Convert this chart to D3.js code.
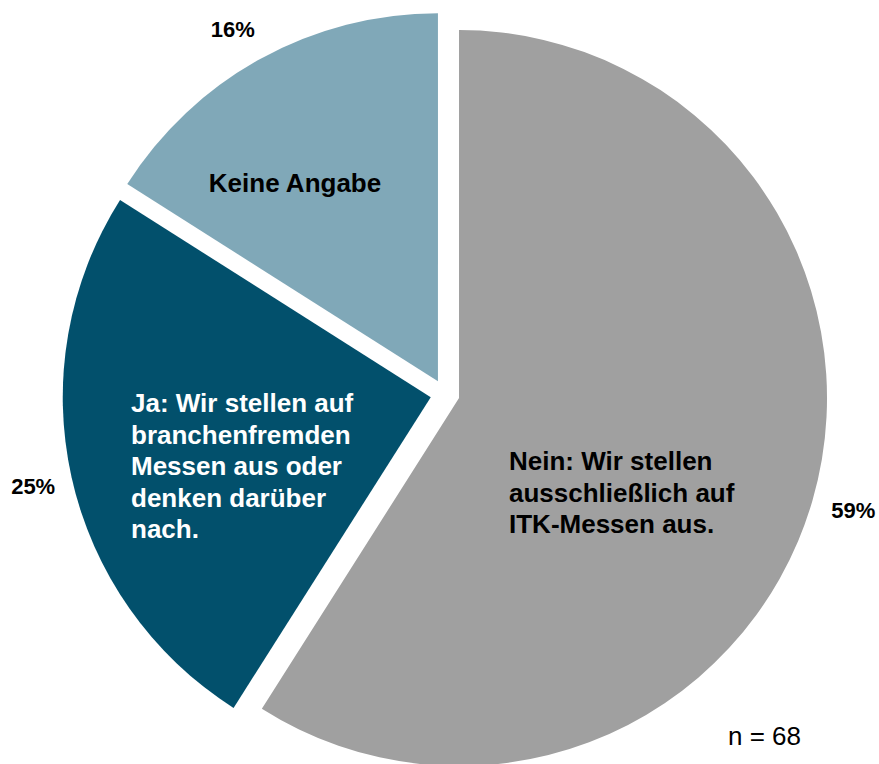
<!DOCTYPE html>
<html>
<head>
<meta charset="utf-8">
<script src="https://cdn.jsdelivr.net/npm/d3@7"></script>
<style>
  body { margin: 0; background: #fff; }
  text { font-family: "Liberation Sans", Arial, sans-serif; }
</style>
</head>
<body>
<div id="chart"></div>
<script>
// slice data, clockwise from 12 o'clock
var categories = ["Nein", "Ja", "Keine Angabe"];
var values = [59, 25, 16];
var percentLabels = ["59%", "25%", "16%"];
var sliceLabels = [
    ["Nein: Wir stellen", "ausschließlich auf", "ITK-Messen aus."],
    ["Ja: Wir stellen auf", "branchenfremden", "Messen aus oder", "denken darüber", "nach."],
    ["Keine Angabe"]
];
var colors = ["#a0a0a0", "#02506c", "#80a8b8"];
var textColors = ["#000", "#fff", "#000"];
var sampleNote = "n = 68";

var width = 879, height = 764;
var cx = 445, cy = 394, radius = 368, explode = 14.6;

var svg = d3.select("#chart").append("svg")
    .attr("width", width)
    .attr("height", height);

var g = svg.append("g").attr("transform", "translate(" + cx + "," + cy + ")");

var pie = d3.pie().sort(null).value(function(d) { return d; });
var arcs = pie(values);

var arc = d3.arc().innerRadius(0).outerRadius(radius);
var labelArc = d3.arc().innerRadius(422).outerRadius(422);

function offset(d, r) {
    var a = (d.startAngle + d.endAngle) / 2;
    return [Math.sin(a) * r, -Math.cos(a) * r];
}

g.selectAll("path.slice")
    .data(arcs)
    .enter()
    .append("path")
    .attr("class", "slice")
    .attr("d", arc)
    .attr("fill", function(d, i) { return colors[i]; })
    .attr("transform", function(d) {
        var o = offset(d, explode);
        return "translate(" + o[0] + "," + o[1] + ")";
    });

// percentage labels outside the pie (small nudges to match layout)
var pctNudge = [[3, -1], [0, 0], [-9, 5]];

g.selectAll("text.pct")
    .data(arcs)
    .enter()
    .append("text")
    .attr("class", "pct")
    .attr("transform", function(d, i) {
        var c = labelArc.centroid(d);
        return "translate(" + (c[0] + pctNudge[i][0]) + "," + (c[1] + pctNudge[i][1]) + ")";
    })
    .attr("dy", "0.35em")
    .attr("text-anchor", "middle")
    .style("font-size", "22px")
    .style("font-weight", "bold")
    .text(function(d, i) { return percentLabels[i]; });

// inner labels: position of first baseline relative to pie centre
var innerPos = [
    {x: 64, y: 76, anchor: "start"},
    {x: -314, y: 18, anchor: "start"},
    {x: -150, y: -202, anchor: "middle"}
];
var lineHeight = 31.5;

g.selectAll("text.inner")
    .data(arcs)
    .enter()
    .append("text")
    .attr("class", "inner")
    .attr("text-anchor", function(d, i) { return innerPos[i].anchor; })
    .style("font-size", "26px")
    .style("font-weight", "bold")
    .attr("fill", function(d, i) { return textColors[i]; })
    .each(function(d, i) {
        var t = d3.select(this);
        sliceLabels[i].forEach(function(line, j) {
            t.append("tspan")
                .attr("x", innerPos[i].x)
                .attr("y", innerPos[i].y + j * lineHeight)
                .text(line);
        });
    });

svg.append("text")
    .attr("x", 728)
    .attr("y", 745)
    .style("font-size", "26px")
    .text(sampleNote);
</script>
</body>
</html>
